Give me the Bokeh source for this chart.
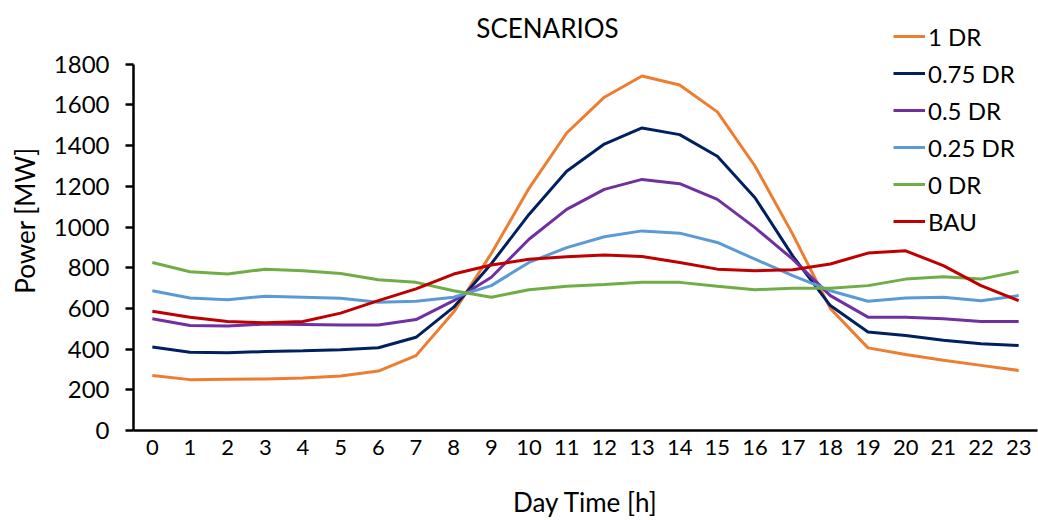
from bokeh.plotting import figure
from bokeh.models import Legend, LegendItem, Label, FixedTicker, Range1d
from bokeh.embed import file_html
from bokeh.resources import INLINE

# Hourly demand profiles (MW) for each demand-response scenario
hours = list(range(24))
dr_100 = [270, 250, 252, 253, 258, 268, 292, 368, 582, 870, 1190, 1462,
          1638, 1742, 1698, 1566, 1300, 965, 600, 406, 374, 345, 320, 295]
dr_75 = [410, 385, 382, 388, 392, 397, 407, 458, 606, 820, 1062, 1274,
         1408, 1487, 1454, 1348, 1144, 858, 614, 484, 467, 443, 426, 418]
dr_50 = [549, 516, 513, 523, 521, 519, 519, 545, 638, 753, 940, 1087,
         1185, 1234, 1213, 1136, 997, 842, 663, 557, 557, 549, 536, 536]
dr_25 = [687, 651, 643, 660, 655, 650, 630, 635, 655, 712, 826, 899,
         952, 981, 970, 924, 842, 761, 687, 635, 651, 655, 638, 663]
dr_0 = [826, 780, 769, 793, 785, 772, 741, 728, 687, 655, 692, 709,
        717, 728, 728, 709, 692, 699, 699, 712, 744, 756, 744, 782]
bau = [586, 557, 536, 529, 536, 577, 638, 696, 769, 813, 842, 854,
       862, 855, 826, 793, 785, 790, 818, 872, 883, 810, 712, 638]

series_names = ["1 DR", "0.75 DR", "0.5 DR", "0.25 DR", "0 DR", "BAU"]
series_values = [dr_100, dr_75, dr_50, dr_25, dr_0, bau]
series_colors = ["#ED7D31", "#002060", "#7030A0", "#5B9BD5", "#70AD47", "#C00000"]
y_max = 1800
y_ticks = list(range(0, y_max + 1, 200))

FONT = "Lato"

# The frame reaches above the top tick so the title and legend have room;
# the y axis line itself stops at y_max.
frame_top_px, axis_top_px, axis_bottom_px = 10, 64, 432
y_end = y_max * (axis_bottom_px - frame_top_px) / (axis_bottom_px - axis_top_px)

p = figure(width=1038, height=520, output_backend="svg", toolbar_location=None,
           x_range=Range1d(-0.5, 23.5), y_range=Range1d(0, y_end),
           min_border_left=133, min_border_right=1,
           min_border_top=frame_top_px, min_border_bottom=520 - axis_bottom_px)
p.outline_line_color = None
p.background_fill_color = "white"
p.border_fill_color = "white"
p.xgrid.visible = False
p.ygrid.visible = False

items = []
for name, vals, col in zip(series_names, series_values, series_colors):
    r = p.line(hours, vals, line_color=col, line_width=3)
    items.append(LegendItem(label=name, renderers=[r]))

# axes
p.xaxis.ticker = FixedTicker(ticks=hours)
p.yaxis.ticker = FixedTicker(ticks=y_ticks)
p.yaxis.bounds = (0, y_max)
for ax in (p.xaxis[0], p.yaxis[0]):
    ax.axis_line_color = "black"
    ax.axis_line_width = 2.5
    ax.major_tick_line_color = "black"
    ax.major_tick_line_width = 2.5
    ax.minor_tick_line_color = None
    ax.major_label_text_font = FONT
    ax.major_label_text_color = "black"
    ax.axis_label_text_font = FONT
    ax.axis_label_text_font_style = "normal"
    ax.axis_label_text_color = "black"
    ax.axis_label_text_font_size = "26px"

p.xaxis.major_tick_out = 0
p.xaxis.major_tick_in = 0
p.xaxis.major_label_text_font_size = "22px"
p.xaxis.major_label_standoff = 9
p.xaxis.axis_label = "Day Time [h]"
p.xaxis.axis_label_standoff = 28

p.yaxis.major_tick_out = 8
p.yaxis.major_tick_in = 0
p.yaxis.major_label_text_font_size = "24px"
p.yaxis.major_label_standoff = 16
p.yaxis.axis_label = "Power [MW]"
p.yaxis.axis_label_standoff = 10

legend = Legend(items=items, location=(760, 194), orientation="vertical",
                label_text_font=FONT, label_text_font_size="24px",
                label_text_color="black", glyph_width=32, glyph_height=30,
                label_height=30, spacing=7, padding=0, margin=0,
                label_standoff=3, border_line_color=None,
                background_fill_alpha=0)
p.add_layout(legend)

title = Label(x=414, y=403, x_units="screen", y_units="screen",
              text="SCENARIOS", text_font=FONT, text_font_size="26px",
              text_color="black", text_align="center", text_baseline="middle")
p.add_layout(title)

open("out.html", "w").write(file_html(p, INLINE))
